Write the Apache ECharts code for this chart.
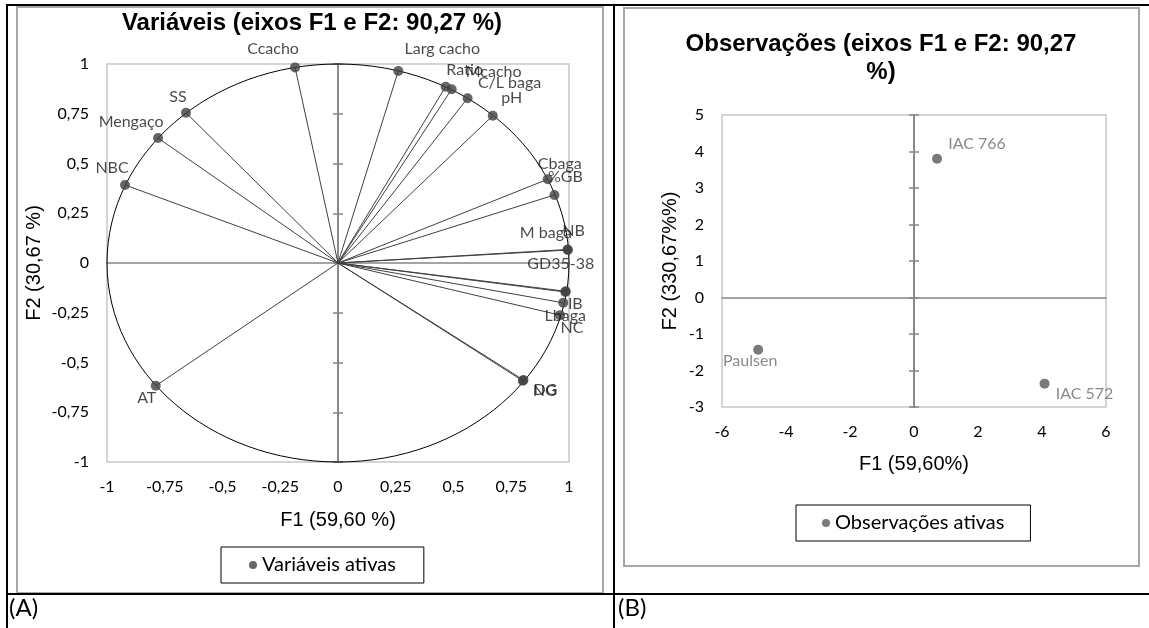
<!DOCTYPE html>
<html><head><meta charset="utf-8">
<script src="https://cdn.jsdelivr.net/npm/echarts@6/dist/echarts.min.js"></script>
<style>html,body{margin:0;padding:0;background:#fff;}#c{width:1149px;height:628px;}</style>
</head><body><div id="c"></div>
<script>
// ---- (A) Variables: correlation circle ----
const varNames = ['Ccacho','Larg cacho','Ratio','Mcacho','C/L baga','pH','Cbaga','%GB','M baga','NB','GD35-38','IB','Lbaga','NC','DG','NG','AT','NBC','Mengaço','SS'];
const varF1 = [-0.186, 0.261, 0.466, 0.492, 0.561, 0.670, 0.908, 0.937, 0.995, 0.994, 0.986, 0.984, 0.975, 0.961, 0.803, 0.800, -0.789, -0.922, -0.779, -0.658];
const varF2 = [0.983, 0.965, 0.886, 0.873, 0.828, 0.740, 0.421, 0.342, 0.065, 0.068, -0.142, -0.146, -0.200, -0.262, -0.588, -0.592, -0.617, 0.392, 0.628, 0.755];
const ticksA = [-1, -0.75, -0.5, -0.25, 0, 0.25, 0.5, 0.75, 1];
const tickLabelsA = ['-1', '-0,75', '-0,5', '-0,25', '0', '0,25', '0,5', '0,75', '1'];

// ---- (B) Observations ----
const obsNames = ['IAC 766', 'Paulsen', 'IAC 572'];
const obsF1 = [0.72, -4.87, 4.08];
const obsF2 = [3.80, -1.43, -2.36];

const corrRadius = 1;

// label placement (style only)
const varLabelOffset = {
  'Ccacho': [-22, -19], 'Larg cacho': [44, -22], 'Ratio': [19, -17], 'Mcacho': [42, -17],
  'C/L baga': [42, -15], 'pH': [19, -18], 'Cbaga': [12, -15], '%GB': [11, -18],
  'M baga': [-22, -17], 'NB': [6, -19], 'GD35-38': [-5, -27], 'IB': [10, 12],
  'Lbaga': [2, 13], 'NC': [12, 13], 'DG': [22, 10], 'NG': [22, 10],
  'AT': [-9, 12], 'NBC': [-13, -17], 'Mengaço': [-27, -16], 'SS': [-8, -16]
};
const obsLabelOffset = { 'IAC 766': [40, -15], 'Paulsen': [-8, 11], 'IAC 572': [40, 10] };

const fmt = v => { const i = ticksA.indexOf(v); return i >= 0 ? tickLabelsA[i] : String(v).replace('.', ','); };
const AX = '#868686';
const tickFont = { fontSize: 16, fontFamily: 'Lato', color: '#000' };
const nameFont = { fontSize: 20, fontFamily: 'Liberation Sans', color: '#000' };

function labelAxisX(grid, min, max, interval, name, gap, formatter) {
  return { gridIndex: grid, type: 'value', min, max, interval, position: 'bottom',
    axisLine: { show: false, onZero: false }, axisTick: { show: false }, splitLine: { show: false },
    axisLabel: Object.assign({ margin: 17, formatter }, tickFont),
    name, nameLocation: 'middle', nameGap: gap, nameTextStyle: nameFont };
}
function labelAxisY(grid, min, max, interval, name, gap, formatter) {
  return { gridIndex: grid, type: 'value', min, max, interval, position: 'left',
    axisLine: { show: false, onZero: false }, axisTick: { show: false }, splitLine: { show: false },
    axisLabel: Object.assign({ margin: 18, formatter }, tickFont),
    name, nameLocation: 'middle', nameGap: gap, nameTextStyle: nameFont };
}
function zeroAxisX(grid, min, max, interval, otherIdx) {
  return { gridIndex: grid, type: 'value', min, max, interval, position: 'bottom',
    axisLine: { show: true, onZero: true, onZeroAxisIndex: otherIdx, lineStyle: { color: AX, width: 1.6 } },
    axisTick: { show: false }, axisLabel: { show: false }, splitLine: { show: false } };
}
function zeroAxisY(grid, min, max, interval, otherIdx, inside) {
  return { gridIndex: grid, type: 'value', min, max, interval, position: 'left',
    axisLine: { show: true, onZero: true, onZeroAxisIndex: otherIdx, lineStyle: { color: AX, width: 1.6 } },
    axisTick: { show: true, inside, length: 5, lineStyle: { color: AX, width: 1.5 } },
    axisLabel: { show: false }, splitLine: { show: false } };
}

const varData = varNames.map((n, i) => ({
  name: n, value: [varF1[i], varF2[i]],
  label: { offset: varLabelOffset[n] || [0, -15] }
}));
const obsData = obsNames.map((n, i) => ({
  name: n, value: [obsF1[i], obsF2[i]],
  label: { offset: obsLabelOffset[n] || [0, -15] }
}));

const chart = echarts.init(document.getElementById('c'), null, { renderer: 'canvas' });
chart.setOption({
  animation: false,
  backgroundColor: '#fff',
  title: [
    { text: 'Variáveis (eixos F1 e F2: 90,27 %)', left: 312, top: 11, textAlign: 'center', padding: 0,
      textStyle: { fontSize: 24, fontWeight: 'bold', fontFamily: 'Liberation Sans', color: '#000' } },
    { text: 'Observações (eixos F1 e F2: 90,27\n%)', left: 881, top: 30, textAlign: 'center', padding: 0,
      textStyle: { fontSize: 24, fontWeight: 'bold', fontFamily: 'Liberation Sans', color: '#000', lineHeight: 28 } }
  ],
  grid: [
    { left: 107, top: 64, width: 462, height: 398, show: true, borderColor: '#c8c8c8', borderWidth: 1.5, backgroundColor: 'transparent' },
    { left: 722, top: 115, width: 384, height: 292, show: true, borderColor: '#c8c8c8', borderWidth: 1.5, backgroundColor: 'transparent' }
  ],
  xAxis: [
    labelAxisX(0, -1, 1, 0.25, 'F1 (59,60 %)', 48, fmt),
    zeroAxisX(0, -1, 1, 0.25, 0),
    labelAxisX(1, -6, 6, 2, 'F1 (59,60%)', 47, v => String(v)),
    zeroAxisX(1, -6, 6, 2, 3)
  ],
  yAxis: [
    labelAxisY(0, -1, 1, 0.25, 'F2 (30,67 %)', 63, fmt),
    zeroAxisY(0, -1, 1, 0.25, 0, false),
    zeroAxisY(0, -1, 1, 0.25, 0, true),
    labelAxisY(1, -3, 5, 1, 'F2 (330,67%%)', 42, v => String(v)),
    zeroAxisY(1, -3, 5, 1, 2, false),
    zeroAxisY(1, -3, 5, 1, 2, true)
  ],
  legend: [
    { data: ['Variáveis ativas'], left: 221, top: 547, orient: 'horizontal', icon: 'circle',
      itemWidth: 8, itemHeight: 8, itemGap: 6, padding: [8, 28, 8, 28],
      borderColor: '#000', borderWidth: 1, textStyle: { fontSize: 20, fontFamily: 'Lato', color: '#000' } },
    { data: ['Observações ativas'], left: 796, top: 505, orient: 'horizontal', icon: 'circle',
      itemWidth: 8, itemHeight: 8, itemGap: 6, padding: [8, 26, 8, 26],
      borderColor: '#000', borderWidth: 1, textStyle: { fontSize: 20, fontFamily: 'Lato', color: '#000' } }
  ],
  graphic: [
    { type: 'rect', silent: true, z: -1, shape: { x: 17, y: 7, width: 586, height: 586 }, style: { fill: 'none', stroke: '#a6a6a6', lineWidth: 2 } },
    { type: 'rect', silent: true, z: -1, shape: { x: 624, y: 8, width: 515, height: 558 }, style: { fill: 'none', stroke: '#a6a6a6', lineWidth: 2 } },
    { type: 'line', silent: true, shape: { x1: 6, y1: 5, x2: 1149, y2: 5 }, style: { stroke: '#000', lineWidth: 2 } },
    { type: 'line', silent: true, shape: { x1: 7, y1: 5, x2: 7, y2: 628 }, style: { stroke: '#000', lineWidth: 2 } },
    { type: 'line', silent: true, shape: { x1: 614, y1: 5, x2: 614, y2: 628 }, style: { stroke: '#000', lineWidth: 2 } },
    { type: 'line', silent: true, shape: { x1: 6, y1: 594, x2: 1149, y2: 594 }, style: { stroke: '#000', lineWidth: 2 } },
    { type: 'text', silent: true, left: 9, top: 596, style: { text: '(A)', fontSize: 24, fontFamily: 'Lato', fill: '#000' } },
    { type: 'text', silent: true, left: 618, top: 596, style: { text: '(B)', fontSize: 24, fontFamily: 'Lato', fill: '#000' } }
  ],
  series: [
    { type: 'custom', name: 'circle', xAxisIndex: 0, yAxisIndex: 0, silent: true, z: 2, clip: false,
      data: [[0, 0]],
      renderItem: (params, api) => {
        const c = api.coord([api.value(0), api.value(1)]);
        const s = api.size([corrRadius, corrRadius]);
        return { type: 'ellipse', shape: { cx: c[0], cy: c[1], rx: s[0], ry: s[1] },
          style: { fill: 'none', stroke: '#000', lineWidth: 1 } };
      } },
    { type: 'custom', name: 'vectors', xAxisIndex: 0, yAxisIndex: 0, silent: true, z: 3, clip: false,
      data: varNames.map((n, i) => [varF1[i], varF2[i]]),
      renderItem: (params, api) => {
        const o = api.coord([0, 0]);
        const p = api.coord([api.value(0), api.value(1)]);
        return { type: 'line', shape: { x1: o[0], y1: o[1], x2: p[0], y2: p[1] },
          style: { stroke: '#404040', lineWidth: 1 } };
      } },
    { type: 'scatter', name: 'Variáveis ativas', xAxisIndex: 0, yAxisIndex: 0, z: 5,
      symbol: 'circle', symbolSize: 10, itemStyle: { color: '#404040' },
      label: { show: true, position: 'inside', formatter: '{b}', fontSize: 16, fontFamily: 'Lato', color: '#1a1a1a' },
      data: varData },
    { type: 'scatter', name: 'Observações ativas', xAxisIndex: 2, yAxisIndex: 3, z: 5,
      symbol: 'circle', symbolSize: 10, itemStyle: { color: '#595959' },
      label: { show: true, position: 'inside', formatter: '{b}', fontSize: 16, fontFamily: 'Lato', color: '#6b6b6b' },
      data: obsData }
  ]
});
</script>
</body></html>
